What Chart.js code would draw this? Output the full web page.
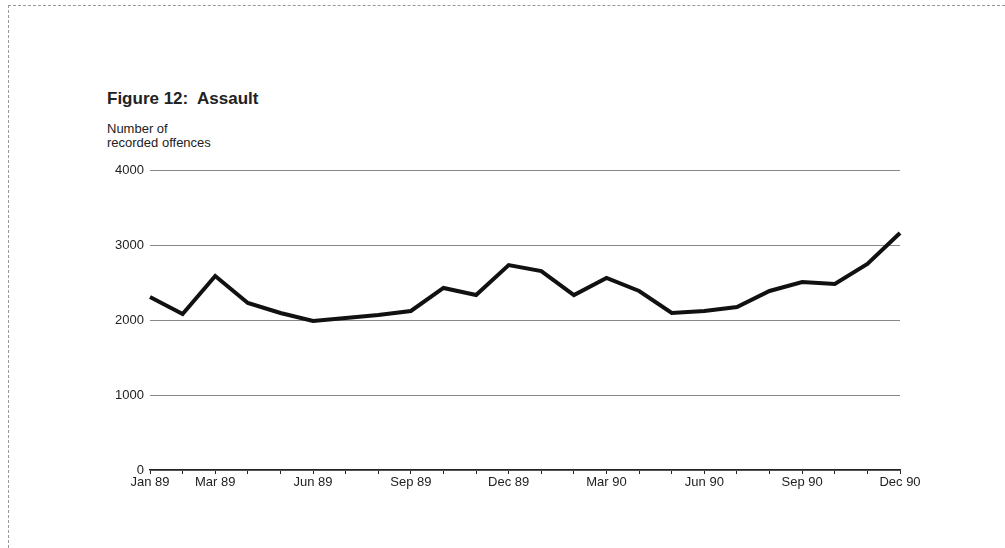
<!DOCTYPE html>
<html>
<head>
<meta charset="utf-8">
<script src="https://cdn.jsdelivr.net/npm/chart.js@4.4.1/dist/chart.umd.min.js"></script>
<style>
  body { margin: 0; background: #fff; font-family: "Liberation Sans", Arial, sans-serif; }
  #wrap { position: relative; width: 1005px; height: 548px; }
  #frame { position: absolute; left: 8px; top: 5px; right: 0; bottom: 0; border-top: 1px dashed #999; border-left: 1px dashed #999; }
  #title { position: absolute; left: 107px; top: 89px; font-size: 17px; font-weight: bold; color: #222; }
  #ylab { position: absolute; left: 107px; top: 122px; font-size: 13px; line-height: 14px; color: #222; }
  canvas { position: absolute; left: 0; top: 0; }
</style>
</head>
<body>
<div id="wrap">
  <div id="frame"></div>
  <div id="title">Figure 12:&nbsp; Assault</div>
  <div id="ylab">Number of<br>recorded offences</div>
  <canvas id="c" width="1005" height="548"></canvas>
</div>
<script>
const months = ['Jan 89','Feb 89','Mar 89','Apr 89','May 89','Jun 89','Jul 89','Aug 89','Sep 89','Oct 89','Nov 89','Dec 89',
                'Jan 90','Feb 90','Mar 90','Apr 90','May 90','Jun 90','Jul 90','Aug 90','Sep 90','Oct 90','Nov 90','Dec 90'];
const shownLabels = ['Jan 89','Mar 89','Jun 89','Sep 89','Dec 89','Mar 90','Jun 90','Sep 90','Dec 90'];
const assault = [2307, 2080, 2587, 2227, 2093, 1987, 2027, 2067, 2120, 2427, 2333, 2733,
                 2653, 2333, 2560, 2387, 2093, 2120, 2173, 2387, 2507, 2480, 2747, 3160];
const yTicks = [0, 1000, 2000, 3000, 4000];

new Chart(document.getElementById('c'), {
  type: 'line',
  data: {
    labels: months,
    datasets: [{ data: assault, borderColor: '#111', borderWidth: 4, pointRadius: 0, tension: 0, fill: false }]
  },
  options: {
    responsive: false,
    animation: false,
    layout: { padding: { left: 100, top: 170, right: 105, bottom: 53 } },
    plugins: { legend: { display: false }, tooltip: { enabled: false } },
    scales: {
      x: {
        offset: false,
        grid: { display: true, drawOnChartArea: false, drawTicks: true, tickLength: 4, color: '#222' },
        border: { color: '#222', width: 1.5 },
        afterFit: s => { s.height = 25; },
        ticks: {
          autoSkip: false, maxRotation: 0, padding: 1, color: '#222', font: { size: 13, family: 'Liberation Sans' },
          callback: function (v) { const l = this.getLabelForValue(v); return shownLabels.includes(l) ? l : ''; }
        }
      },
      y: {
        min: 0, max: 4000,
        afterFit: s => { s.width = 50; },
        afterBuildTicks: s => { s.ticks = yTicks.map(v => ({ value: v })); },
        grid: { color: '#888', lineWidth: 1, drawTicks: false },
        border: { display: false },
        ticks: { padding: 6, color: '#222', font: { size: 13, family: 'Liberation Sans' }, callback: v => String(v) }
      }
    }
  }
});
</script>
</body>
</html>
